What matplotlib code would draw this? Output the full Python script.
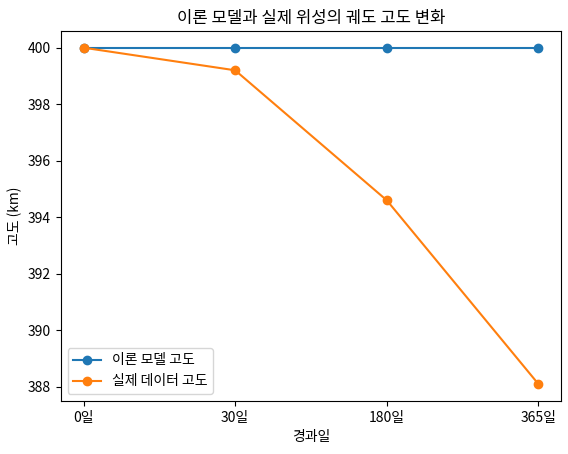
import matplotlib
matplotlib.use("Agg")
import matplotlib.pyplot as plt

plt.rcParams['font.family'] = ['Noto Sans CJK KR', 'DejaVu Sans']

days = ['0일', '30일', '180일', '365일']
theory = [400, 400, 400, 400]
actual = [400, 399.2, 394.6, 388.1]

fig, ax = plt.subplots(figsize=(5.68, 4.54), dpi=100)
x = range(len(days))
ax.plot(x, theory, marker='o', label='이론 모델 고도')
ax.plot(x, actual, marker='o', label='실제 데이터 고도')
ax.set_xticks(list(x))
ax.set_xticklabels(days)
ax.set_title('이론 모델과 실제 위성의 궤도 고도 변화')
ax.set_xlabel('경과일')
ax.set_ylabel('고도 (km)')
ax.legend(loc='lower left')
fig.subplots_adjust(left=0.107, right=0.988, top=0.932, bottom=0.117)
fig.savefig('out.png')
